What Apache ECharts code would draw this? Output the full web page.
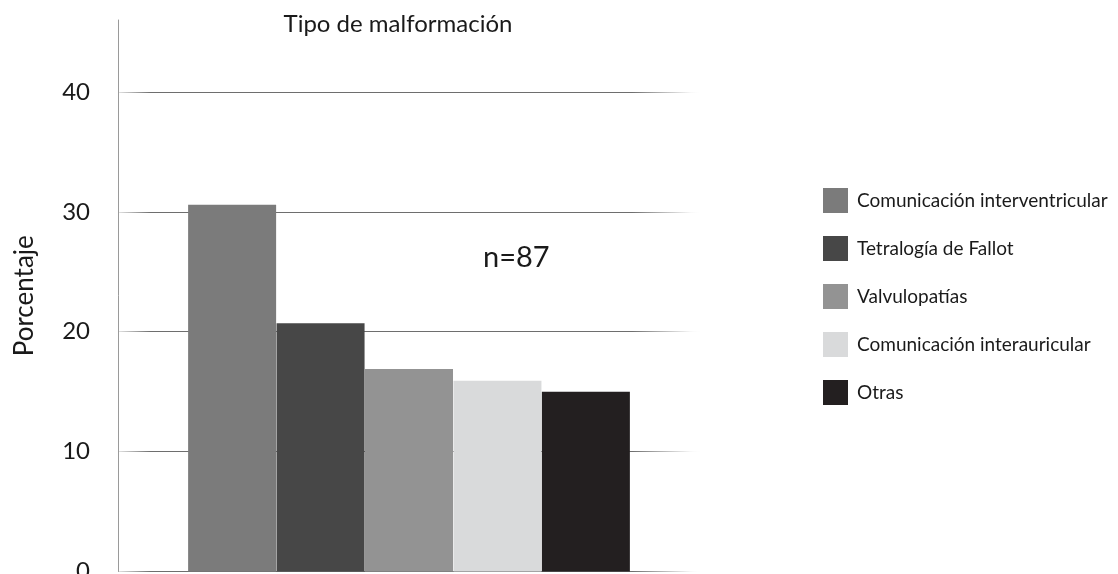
<!DOCTYPE html>
<html>
<head>
<meta charset="utf-8">
<script src="https://cdn.jsdelivr.net/npm/echarts@6/dist/echarts.min.js"></script>
<style>
  html, body { margin: 0; padding: 0; background: #ffffff; }
  #chart { width: 1118px; height: 574px; }
</style>
</head>
<body>
<div id="chart"></div>
<script>
// Malformation types (percent of n = 87)
const seriesNames = [
  'Comunicación interventricular',
  'Tetralogía de Fallot',
  'Valvulopatías',
  'Comunicación interauricular',
  'Otras'
];
const seriesValues = [30.6, 20.7, 16.9, 15.9, 15.0];
const seriesColors = ['#7b7b7b', '#474747', '#939393', '#d9dadb', '#231f20'];
const categories = [''];
const yTicks = [0, 10, 20, 30, 40];

const FONT = 'Lato, "Open Sans", sans-serif';

const chart = echarts.init(document.getElementById('chart'), null, { renderer: 'canvas' });

// split lines fade out at both ends
const gridFade = new echarts.graphic.LinearGradient(0, 0, 1, 0, [
  { offset: 0, color: 'rgba(120,120,120,0.15)' },
  { offset: 0.06, color: 'rgba(110,110,110,1)' },
  { offset: 0.88, color: 'rgba(110,110,110,1)' },
  { offset: 0.98, color: 'rgba(110,110,110,0.05)' },
  { offset: 1, color: 'rgba(255,255,255,0)' }
]);

const option = {
  animation: false,
  backgroundColor: '#ffffff',
  title: {
    text: 'Tipo de malformación',
    left: 393,
    textAlign: 'center',
    top: 7,
    textStyle: { fontFamily: FONT, fontSize: 24, fontWeight: 'normal', color: '#1a1a1a' }
  },
  legend: {
    orient: 'vertical',
    left: 818,
    top: 183,
    itemWidth: 25,
    itemHeight: 25,
    itemGap: 23,
    icon: 'rect',
    textStyle: { fontFamily: FONT, fontSize: 19, color: '#1a1a1a', padding: [0, 0, 0, 4] },
    data: seriesNames
  },
  grid: {
    left: 118, top: 20, width: 582, bottom: 2.5,
    containLabel: false,
    outerBoundsMode: 'none'
  },
  xAxis: {
    type: 'category',
    data: categories,
    axisLine: { show: false },
    axisTick: { show: false },
    axisLabel: { show: false }
  },
  yAxis: {
    type: 'value',
    min: 0,
    max: 46,
    interval: 10,
    name: 'Porcentaje',
    nameLocation: 'middle',
    nameGap: 80,
    nameTextStyle: { fontFamily: FONT, fontSize: 26, color: '#1a1a1a' },
    axisLine: { show: true, lineStyle: { color: '#9a9a9a', width: 1 } },
    axisTick: { show: false },
    axisLabel: {
      fontFamily: FONT, fontSize: 24, color: '#1a1a1a', margin: 28,
      showMaxLabel: false,
      formatter: v => (yTicks.indexOf(v) >= 0 ? String(v) : '')
    },
    splitLine: {
      show: true,
      showMaxLine: false,
      lineStyle: { color: gridFade, width: 1.2 }
    }
  },
  graphic: [
    {
      type: 'text',
      x: 483,
      y: 258,
      style: {
        text: 'n=87', fontFamily: FONT, fontSize: 29, fill: '#1a1a1a',
        verticalAlign: 'middle', align: 'left'
      }
    }
  ],
  series: seriesNames.map((name, i) => ({
    name: name,
    type: 'bar',
    barWidth: 88,
    barGap: '0.5%',
    itemStyle: { color: seriesColors[i] },
    data: [seriesValues[i]]
  }))
};

chart.setOption(option);
</script>
</body>
</html>
